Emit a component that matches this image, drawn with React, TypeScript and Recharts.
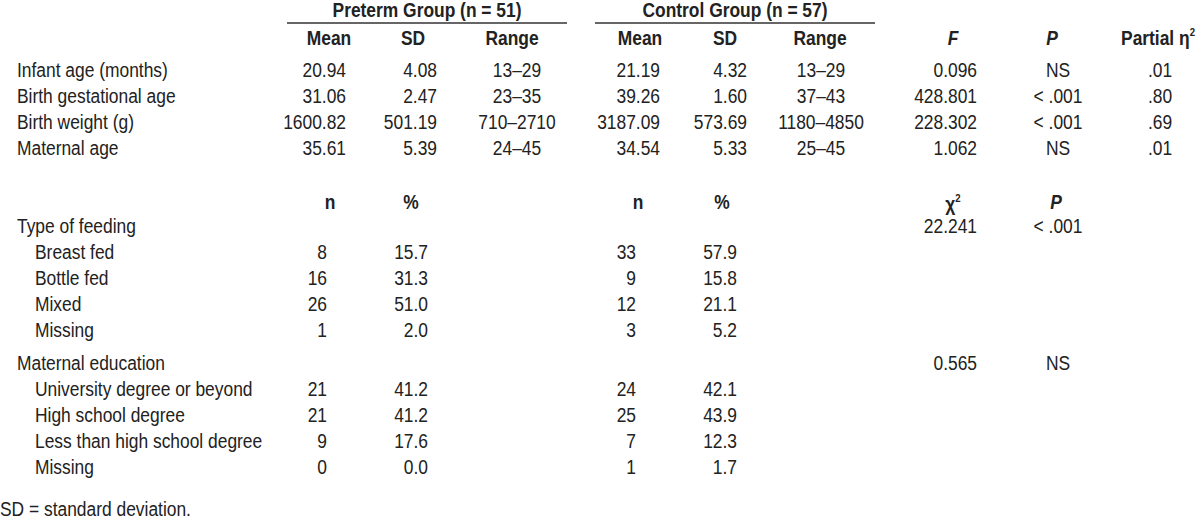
import { ReferenceLine, Scatter, ScatterChart, XAxis, YAxis } from 'recharts'

// group sizes
const pretermN = 51
const controlN = 57

// continuous measures
const measureLabels = [
  'Infant age (months)',
  'Birth gestational age',
  'Birth weight (g)',
  'Maternal age',
]
const pretermMean = [20.94, 31.06, 1600.82, 35.61]
const pretermSD = [4.08, 2.47, 501.19, 5.39]
const pretermRange = [[13, 29], [23, 35], [710, 2710], [24, 45]]
const controlMean = [21.19, 39.26, 3187.09, 34.54]
const controlSD = [4.32, 1.6, 573.69, 5.33]
const controlRange = [[13, 29], [37, 43], [1180, 4850], [25, 45]]
const fValues = [0.096, 428.801, 228.302, 1.062]
const pValues = ['NS', '< .001', '< .001', 'NS']
const etaValues = [0.01, 0.8, 0.69, 0.01]

// type of feeding
const feedingLabels = ['Breast fed', 'Bottle fed', 'Mixed', 'Missing']
const pretermFeedN = [8, 16, 26, 1]
const pretermFeedPct = [15.7, 31.3, 51.0, 2.0]
const controlFeedN = [33, 9, 12, 3]
const controlFeedPct = [57.9, 15.8, 21.1, 5.2]
const feedingChi = 22.241
const feedingP = '< .001'

// maternal education
const educationLabels = [
  'University degree or beyond',
  'High school degree',
  'Less than high school degree',
  'Missing',
]
const pretermEduN = [21, 21, 9, 0]
const pretermEduPct = [41.2, 41.2, 17.6, 0.0]
const controlEduN = [24, 25, 7, 1]
const controlEduPct = [42.1, 43.9, 12.3, 1.7]
const educationChi = 0.565
const educationP = 'NS'

// layout: column anchors (x) and text baselines (y), in pixels
const col = {
  label: 17,
  sub: 35,
  pMeanH: 329, pMean: 346, pSDH: 413, pSD: 437, pRangeH: 512, pRange: 517,
  cMeanH: 640, cMean: 660, cSDH: 725, cSD: 747, cRangeH: 820, cRange: 821,
  pNH: 330, pN: 327, pPctH: 411, pPct: 428,
  cNH: 638, cN: 636, cPctH: 722, cPct: 737,
  FH: 953, F: 977, PH: 1052, P: 1058, eta: 1160,
  pTitle: 427, cTitle: 735,
}
const rowY = {
  title: 17,
  line: 23,
  head: 45,
  measures: [77, 103, 129, 155],
  countHead: 209,
  feeding: 233,
  feedRows: [259, 285, 311, 337],
  education: 370,
  eduRows: [396, 422, 448, 474],
  note: 516,
}
const lines = [
  [287, 567],
  [595, 875],
]

// font: Liberation Sans squeezed horizontally to look like a narrow grotesque
const FONT_SIZE = 20
const SQUEEZE = 0.87

type Cell = {
  x: number
  y: number
  text: string
  anchor?: 'start' | 'middle' | 'end'
  bold?: boolean
  italic?: boolean
  sup?: string
}

const dash = (r: number[]) => `${r[0]}–${r[1]}`
const noZero = (v: number) => v.toFixed(2).replace(/^0/, '')

const cells: Cell[] = []
const add = (c: Cell) => cells.push(c)

// headers
add({ x: col.pTitle, y: rowY.title, text: `Preterm Group (n = ${pretermN})`, anchor: 'middle', bold: true })
add({ x: col.cTitle, y: rowY.title, text: `Control Group (n = ${controlN})`, anchor: 'middle', bold: true })
;[
  [col.pMeanH, 'Mean'], [col.pSDH, 'SD'], [col.pRangeH, 'Range'],
  [col.cMeanH, 'Mean'], [col.cSDH, 'SD'], [col.cRangeH, 'Range'],
].forEach(([x, t]) => add({ x: x as number, y: rowY.head, text: t as string, anchor: 'middle', bold: true }))
add({ x: col.FH, y: rowY.head, text: 'F', anchor: 'middle', bold: true, italic: true })
add({ x: col.PH, y: rowY.head, text: 'P', anchor: 'middle', bold: true, italic: true })
add({ x: col.eta - 2, y: rowY.head, text: 'Partial η', anchor: 'middle', bold: true, sup: '2' })

// continuous measures
measureLabels.forEach((label, i) => {
  const y = rowY.measures[i]
  add({ x: col.label, y, text: label })
  add({ x: col.pMean, y, text: pretermMean[i].toFixed(2), anchor: 'end' })
  add({ x: col.pSD, y, text: pretermSD[i].toFixed(2), anchor: 'end' })
  add({ x: col.pRange, y, text: dash(pretermRange[i]), anchor: 'middle' })
  add({ x: col.cMean, y, text: controlMean[i].toFixed(2), anchor: 'end' })
  add({ x: col.cSD, y, text: controlSD[i].toFixed(2), anchor: 'end' })
  add({ x: col.cRange, y, text: dash(controlRange[i]), anchor: 'middle' })
  add({ x: col.F, y, text: fValues[i].toFixed(3), anchor: 'end' })
  add({ x: col.P, y, text: pValues[i], anchor: 'middle' })
  add({ x: col.eta, y, text: noZero(etaValues[i]), anchor: 'middle' })
})

// count headers
;[
  [col.pNH, 'n'], [col.pPctH, '%'], [col.cNH, 'n'], [col.cPctH, '%'],
].forEach(([x, t]) => add({ x: x as number, y: rowY.countHead, text: t as string, anchor: 'middle', bold: true }))
add({ x: col.FH, y: rowY.countHead + 2, text: 'χ', anchor: 'middle', bold: true, sup: '2' })
add({ x: col.PH + 4, y: rowY.countHead, text: 'P', anchor: 'middle', bold: true, italic: true })

const countBlock = (
  title: string,
  titleY: number,
  labels: string[],
  ys: number[],
  pn: number[],
  pp: number[],
  cn: number[],
  cp: number[],
  chi: number,
  p: string,
) => {
  add({ x: col.label, y: titleY, text: title })
  add({ x: col.F, y: titleY, text: chi.toFixed(3), anchor: 'end' })
  add({ x: col.P, y: titleY, text: p, anchor: 'middle' })
  labels.forEach((label, i) => {
    const y = ys[i]
    add({ x: col.sub, y, text: label })
    add({ x: col.pN, y, text: String(pn[i]), anchor: 'end' })
    add({ x: col.pPct, y, text: pp[i].toFixed(1), anchor: 'end' })
    add({ x: col.cN, y, text: String(cn[i]), anchor: 'end' })
    add({ x: col.cPct, y, text: cp[i].toFixed(1), anchor: 'end' })
  })
}

countBlock('Type of feeding', rowY.feeding, feedingLabels, rowY.feedRows,
  pretermFeedN, pretermFeedPct, controlFeedN, controlFeedPct, feedingChi, feedingP)
countBlock('Maternal education', rowY.education, educationLabels, rowY.eduRows,
  pretermEduN, pretermEduPct, controlEduN, controlEduPct, educationChi, educationP)

add({ x: 0, y: rowY.note, text: 'SD = standard deviation.' })

const TextCell = (props: any) => {
  const { cx, cy, payload } = props
  const c = payload as Cell
  return (
    <text
      transform={`translate(${cx} ${cy}) scale(${SQUEEZE} 1)`}
      x={0}
      y={0}
      textAnchor={c.anchor ?? 'start'}
      fontWeight={c.bold ? 700 : 400}
      fontStyle={c.italic ? 'italic' : 'normal'}
      fill="#222"
    >
      {c.text}
      {c.sup && (
        <tspan fontSize={11} dy={-9}>
          {c.sup}
        </tspan>
      )}
    </text>
  )
}

export default function App() {
  return (
    <div
      style={{
        position: 'absolute',
        left: 0,
        top: 0,
        width: 1200,
        height: 525,
        background: '#fff',
        fontFamily: "'Liberation Sans', Arial, sans-serif",
        fontSize: FONT_SIZE,
      }}
    >
      <ScatterChart width={1200} height={525} margin={{ top: 0, right: 0, bottom: 0, left: 0 }}>
        <XAxis type="number" dataKey="x" domain={[0, 1200]} hide />
        <YAxis type="number" dataKey="y" domain={[0, 525]} reversed hide />
        {lines.map(([x1, x2], i) => (
          <ReferenceLine
            key={i}
            segment={[{ x: x1, y: rowY.line }, { x: x2, y: rowY.line }]}
            stroke="#333"
            strokeWidth={1.5}
            ifOverflow="visible"
          />
        ))}
        <Scatter data={cells} shape={TextCell} isAnimationActive={false} />
      </ScatterChart>
    </div>
  )
}
